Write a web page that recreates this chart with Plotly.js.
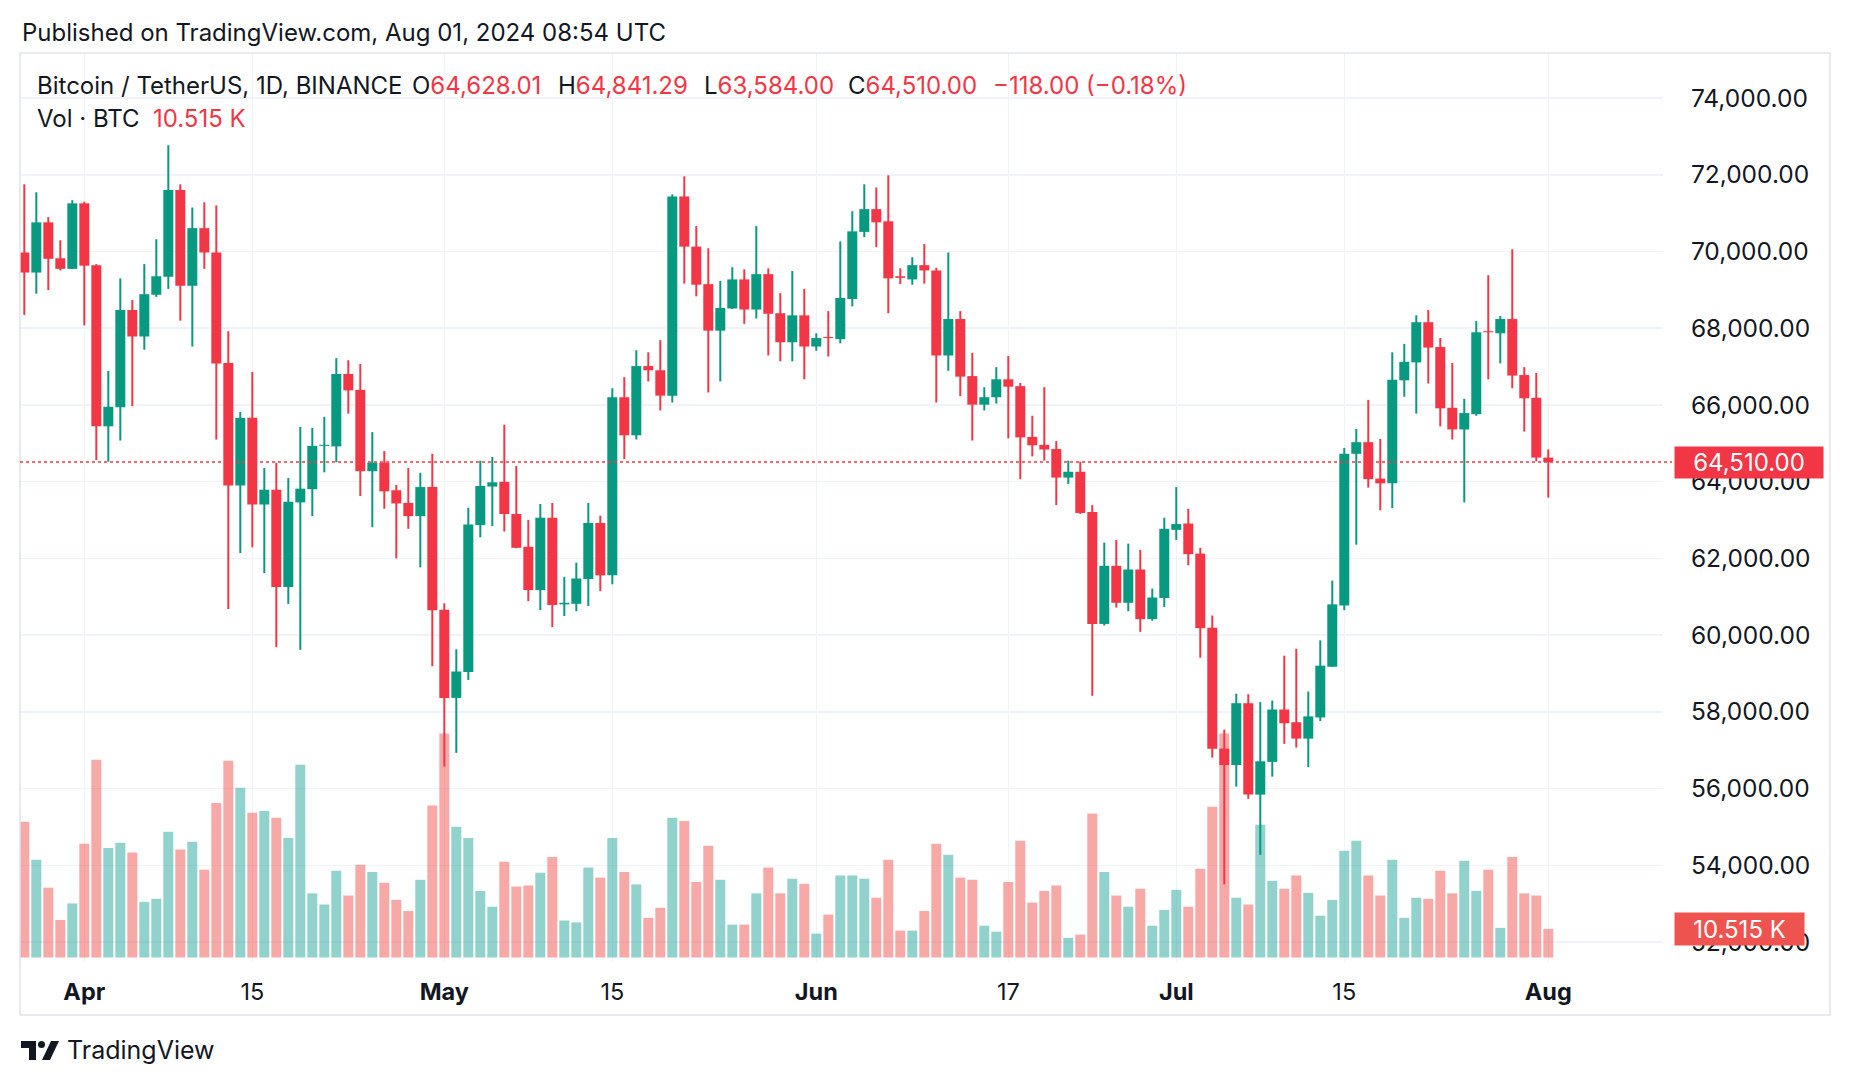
<!DOCTYPE html>
<html><head><meta charset="utf-8">
<script src="https://cdn.plot.ly/plotly-3.0.1.min.js"></script>
<style>html,body{margin:0;padding:0;background:#fff;}#chart{width:1850px;height:1086px;}</style>
</head><body><div id="chart"></div>
<script>
// Daily BTC/USDT candles from 2024-03-27 to 2024-08-01
const startDate = [2024, 2, 27];
const open = [69975,69452,70760,69824,69548,71256,69645,65443,65939,68474,67785,68873,69342,71601,69107,70609,69975,67096,63901,65664,63405,63791,61256,63460,63804,64934,64920,66807,66394,64273,64493,63777,63446,63102,63859,60664,58364,59039,62868,63873,63997,63157,62303,61174,63061,60802,60816,61463,62923,61559,66201,65209,67014,66904,66243,71435,70127,69149,67937,68515,69273,68488,69410,68391,67634,68336,67523,67771,67716,68763,70512,71105,70788,69355,69273,69645,69507,67289,68240,66752,66008,66201,66669,66490,65168,64961,64851,64107,64259,63212,60292,61807,60843,61711,60416,60967,62744,62909,62124,60195,57041,56614,58226,55843,56697,58061,57730,57303,57854,59176,60774,64727,65030,64080,63956,66642,67110,68157,67510,65926,65361,65760,67923,67868,68240,66780,66187,64628.01];
const high = [71752,71545,70898,70292,71339,71300,69672,66890,69300,68736,69672,70320,72771,71752,71146,71284,71201,67923,65816,66862,64355,64493,64094,65430,65402,65691,67220,67165,67069,65292,64796,63915,64355,64231,64727,60829,59631,63322,64548,64645,65485,64410,63005,63419,63446,61518,61890,63446,63116,66435,66725,67427,67372,67689,71490,71959,70664,70085,69231,69590,69534,70664,69562,68915,69493,69025,67868,68446,70264,71050,71752,71669,71986,69562,69851,70196,69576,69975,68446,67358,66463,66986,67275,66573,65719,66463,65058,64548,64521,63391,62413,62482,62386,62220,61215,63061,63859,63295,62276,60512,57537,58474,58460,58254,58295,59465,59645,58529,59865,61422,64879,65375,66132,65113,67372,67592,68336,68474,67744,67096,66160,68185,69383,68322,70058,66986,66835,64841.29];
const low = [68350,68901,68997,69507,69548,68074,64562,64520,65072,65967,67441,68818,69025,68198,67523,69548,65099,60678,62138,62289,61614,59686,60815,59617,63102,64245,64507,65774,63625,62813,63295,62000,62771,61766,59190,56573,56931,58832,62551,62840,62702,62262,60884,60650,60209,60499,60623,60760,61146,61325,64590,65099,66614,65857,66063,69163,68832,66325,66614,68500,68116,68253,67289,67138,67138,66669,67413,67262,67606,68570,70375,70113,68391,69149,69135,69163,66063,66890,66229,65072,65857,66036,65127,64066,64658,64548,63391,63942,63157,58419,60251,60719,60623,60085,60375,60733,62482,61821,59410,56807,53502,56050,55733,54273,56311,57165,57069,56559,57758,59176,60650,62358,63846,63253,63309,66215,65774,66559,65443,65099,63460,65719,66669,67083,66435,65306,64534,63584.00];
const close = [69452,70760,69810,69548,71256,69631,65443,65953,68474,67785,68887,69355,71601,69107,70609,69975,67083,63901,65664,63405,63791,61256,63474,63818,64934,64961,66807,66380,64273,64493,63749,63433,63102,63859,60650,58364,59052,62882,63887,63984,63157,62276,61174,63061,60788,60843,61477,62923,61559,66201,65209,67014,66904,66243,71435,70127,69135,67937,68529,69273,68488,69410,68377,67634,68336,67523,67744,67744,68791,70526,71105,70760,69300,69314,69645,69507,67289,68240,66738,66008,66201,66669,66476,65154,64948,64838,64107,64259,63185,60292,61807,60843,61711,60416,60981,62771,62895,62110,60182,57041,56614,58226,55843,56711,58061,57703,57303,57882,59204,60802,64727,65030,64066,63956,66656,67124,68157,67496,65912,65361,65788,67895,67895,68240,66766,66174,64628,64510.00];
const volumeK = [50.0,36.0,25.7,13.8,19.9,41.9,72.8,40.3,42.2,38.6,20.4,21.6,46.3,39.7,42.6,32.3,56.9,72.4,62.5,53.3,53.9,51.4,44.0,70.9,23.6,19.5,31.9,22.8,34.1,31.5,27.5,21.2,17.1,28.6,55.9,82.4,48.1,44.0,24.5,18.7,35.2,26.1,26.5,31.2,37.0,13.6,12.9,33.1,29.4,44.0,31.5,26.9,14.6,18.3,51.4,50.2,27.8,41.1,28.6,12.1,12.1,23.6,33.1,23.6,29.0,27.1,8.8,15.8,30.2,30.2,29.0,22.0,36.0,9.9,9.9,17.1,41.9,37.8,29.4,28.6,11.7,9.5,27.8,43.0,20.2,24.5,26.5,7.2,8.4,53.0,31.5,22.8,18.7,25.3,11.7,17.5,24.9,18.7,32.7,55.5,82.4,22.0,19.5,48.9,28.2,25.3,30.2,23.8,15.4,21.2,39.3,43.0,30.2,22.8,36.0,14.6,22.0,21.6,31.9,23.6,35.6,24.5,32.3,10.9,37.0,23.6,22.8,10.515];

const tickDates = ['2024-04-01','2024-04-15','2024-05-01','2024-05-15','2024-06-01','2024-06-17','2024-07-01','2024-07-15','2024-08-01'];
const tickLabels = ['<b>Apr</b>','15','<b>May</b>','15','<b>Jun</b>','17','<b>Jul</b>','15','<b>Aug</b>'];
const priceTicks = [52000,54000,56000,58000,60000,62000,64000,66000,68000,70000,72000,74000];
const lastPrice = 64510.00;
const lastVolK = 10.515;

const UP = '#089981', DOWN = '#F23645';
const UPV = 'rgba(38,166,154,0.5)', DOWNV = 'rgba(239,83,80,0.5)';
const DAY = 86400000;
const t0 = Date.UTC(startDate[0], startDate[1], startDate[2]);
const fmt = ms => new Date(ms).toISOString().slice(0,19).replace('T',' ');
const dates = open.map((_, i) => fmt(t0 + i * DAY).slice(0,10));
const isUp = open.map((o, i) => close[i] >= o);

// pixel helpers for page-level decorations (plot area: x 20..1663, y 53..962)
const PL = 20, PR = 1663, PT = 53, PB = 962;
const px = x => (x - PL) / (PR - PL);
const py = y => (PB - y) / (PB - PT);

const volTrace = {
  type: 'bar', x: dates, y: volumeK, yaxis: 'y', xaxis: 'x',
  width: DAY * 10 / 12,
  marker: {color: isUp.map(u => u ? UPV : DOWNV), line: {width: 0}},
  hoverinfo: 'skip'
};
const wickTrace = {
  type: 'bar', x: dates, base: low, y: high.map((h, i) => h - low[i]), yaxis: 'y2', xaxis: 'x',
  width: DAY * 2 / 12,
  marker: {color: isUp.map(u => u ? UP : DOWN), line: {width: 0}},
  hoverinfo: 'skip'
};
const bodyTrace = {
  type: 'bar', x: dates,
  base: open.map((o, i) => Math.min(o, close[i])),
  y: open.map((o, i) => Math.max(Math.abs(close[i] - o), 28)),
  yaxis: 'y2', xaxis: 'x',
  width: DAY * 10 / 12,
  marker: {color: isUp.map(u => u ? UP : DOWN), line: {width: 0}},
  hoverinfo: 'skip'
};

const FONT = 'Inter, "Noto Sans", sans-serif';
const TXT = '#131722';
const red = s => '<span style="color:' + DOWN + '">' + s + '</span>';

function ann(text, x, y, opts) {
  return Object.assign({text: text, xref: 'paper', yref: 'paper', x: px(x), y: py(y),
    xanchor: 'left', yanchor: 'middle', showarrow: false,
    font: {family: FONT, size: 24, color: TXT}}, opts || {});
}

const annotations = [
  ann('Published on TradingView.com, Aug 01, 2024 08:54 UTC', 20, 32),
  ann('Bitcoin / TetherUS, 1D, BINANCE', 35, 85),
  ann('O' + red('64,628.01'), 410, 85),
  ann('H' + red('64,841.29'), 556, 85),
  ann('L' + red('63,584.00'), 702, 85),
  ann('C' + red('64,510.00'), 846, 85),
  ann(red('−118.00 (−0.18%)'), 991, 85),
  ann('Vol · BTC', 35, 119),
  ann(red('10.515 K'), 151, 119),
  {text: '64,510.00', xref: 'paper', yref: 'y2', x: px(1674), y: lastPrice, xanchor: 'left', yanchor: 'middle',
   showarrow: false, bgcolor: DOWN, width: 148, height: 31, borderpad: 0, align: 'center',
   font: {family: FONT, size: 24, color: '#ffffff'}},
  {text: '10.515 K', xref: 'paper', yref: 'y', x: px(1674), y: lastVolK, xanchor: 'left', yanchor: 'middle',
   showarrow: false, bgcolor: '#EF5350', width: 129, height: 32, borderpad: 0, align: 'center',
   font: {family: FONT, size: 24, color: '#ffffff'}},
  ann('TradingView', 65, 1050, {font: {family: FONT, size: 25, color: TXT}})
];

const shapes = [
  {type: 'rect', xref: 'paper', yref: 'paper', x0: px(20), x1: px(1830), y0: py(53), y1: py(1015),
   line: {color: '#e0e3eb', width: 1.5}, fillcolor: 'rgba(0,0,0,0)', layer: 'above'},
  {type: 'line', xref: 'paper', yref: 'y2', x0: 0, x1: px(1672), y0: lastPrice, y1: lastPrice,
   line: {color: DOWN, width: 1.5, dash: 'dot'}, layer: 'above'},
  // TradingView logo
  {type: 'path', xref: 'paper', yref: 'paper', fillcolor: TXT, line: {width: 0},
   path: 'M ' + px(21) + ' ' + py(1041) + ' L ' + px(36) + ' ' + py(1041) + ' L ' + px(36) + ' ' + py(1060) +
         ' L ' + px(29) + ' ' + py(1060) + ' L ' + px(29) + ' ' + py(1048) + ' L ' + px(21) + ' ' + py(1048) + ' Z'},
  {type: 'circle', xref: 'paper', yref: 'paper', fillcolor: TXT, line: {width: 0},
   x0: px(38), x1: px(45), y0: py(1041), y1: py(1048)},
  {type: 'path', xref: 'paper', yref: 'paper', fillcolor: TXT, line: {width: 0},
   path: 'M ' + px(51) + ' ' + py(1041) + ' L ' + px(59) + ' ' + py(1041) + ' L ' + px(50) + ' ' + py(1060) +
         ' L ' + px(42) + ' ' + py(1060) + ' Z'}
];

const layout = {
  width: 1850, height: 1086,
  margin: {l: PL, r: 1850 - PR, t: PT, b: 1086 - PB, pad: 0},
  paper_bgcolor: '#ffffff', plot_bgcolor: '#ffffff',
  barmode: 'overlay', showlegend: false, hovermode: false,
  xaxis: {
    type: 'date', range: [fmt(t0 - 0.36 * DAY), fmt(t0 + 136.56 * DAY)],
    tickmode: 'array', tickvals: tickDates, ticktext: tickLabels,
    showgrid: true, gridcolor: '#f0f3fa', gridwidth: 1.5,
    ticks: 'outside', ticklen: 9, tickcolor: 'rgba(0,0,0,0)',
    tickfont: {family: FONT, size: 23.5, color: TXT},
    zeroline: false, showline: false, fixedrange: true
  },
  yaxis: {range: [-1.66, 332.9], visible: false, showgrid: false, zeroline: false, fixedrange: true},
  yaxis2: {
    overlaying: 'y', side: 'right', anchor: 'x',
    range: [51479, 75175],
    tickmode: 'array', tickvals: priceTicks, tickformat: ',.2f',
    showgrid: true, gridcolor: '#f0f3fa', gridwidth: 1.5,
    ticks: 'outside', ticklen: 22, tickcolor: 'rgba(0,0,0,0)',
    tickfont: {family: FONT, size: 24.5, color: TXT},
    zeroline: false, showline: false, fixedrange: true
  },
  annotations: annotations,
  shapes: shapes
};

Plotly.newPlot('chart', [volTrace, wickTrace, bodyTrace], layout, {displayModeBar: false, staticPlot: true});
</script>
</body></html>
